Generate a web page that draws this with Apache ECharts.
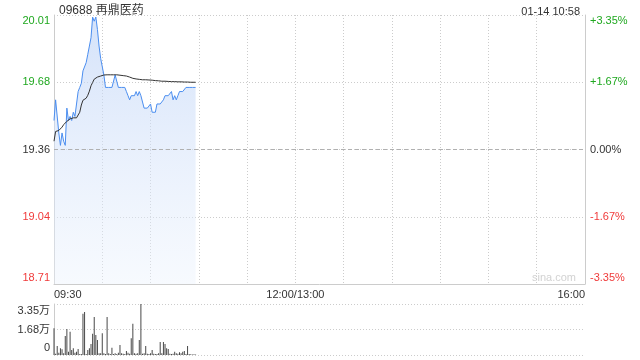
<!DOCTYPE html>
<html><head><meta charset="utf-8">
<script src="https://cdn.jsdelivr.net/npm/echarts@6/dist/echarts.min.js"></script>
<style>html,body{margin:0;padding:0;background:#fff}#c{width:640px;height:360px}</style>
</head><body><div id="c"></div>
<script>
const stockTitle = '09688 再鼎医药';
const stampText = '01-14 10:58';
const watermark = 'sina.com';
const prevClose = 19.36;
const priceRange = 0.65;
const sessionMinutes = 330;
const prices = [19.50,19.60,19.60,19.44,19.38,19.44,19.40,19.38,19.56,19.50,
  19.52,19.50,19.54,19.52,19.52,19.64,19.66,19.68,19.74,19.74,
  19.78,19.82,19.86,19.90,20.00,19.98,20.00,19.94,19.86,19.80,
  19.76,19.72,19.66,19.66,19.66,19.66,19.66,19.66,19.72,19.72,
  19.66,19.66,19.66,19.66,19.66,19.64,19.62,19.60,19.62,19.62,
  19.62,19.64,19.62,19.64,19.62,19.62,19.56,19.56,19.56,19.56,
  19.58,19.54,19.54,19.54,19.58,19.58,19.58,19.58,19.60,19.62,
  19.62,19.62,19.62,19.64,19.60,19.62,19.60,19.62,19.64,19.64,
  19.64,19.64,19.66,19.66,19.66,19.66,19.66,19.66,19.66];
const avgPrices = [19.400,19.447,19.450,19.452,19.455,19.468,19.480,19.488,19.496,19.505,
  19.508,19.512,19.513,19.513,19.513,19.515,19.540,19.575,19.598,19.602,
  19.608,19.622,19.642,19.668,19.684,19.700,19.707,19.710,19.712,19.715,
  19.718,19.720,19.721,19.721,19.721,19.721,19.721,19.721,19.721,19.721,
  19.720,19.719,19.718,19.717,19.716,19.715,19.713,19.710,19.706,19.704,
  19.702,19.701,19.700,19.699,19.698,19.697,19.697,19.697,19.696,19.696,
  19.695,19.695,19.694,19.693,19.693,19.692,19.691,19.690,19.690,19.690,
  19.689,19.689,19.688,19.688,19.688,19.688,19.687,19.687,19.687,19.687,
  19.686,19.686,19.686,19.686,19.685,19.685,19.685,19.685,19.685];
const volumes = [17600,800,5900,1500,4400,3700,1200,12500,17000,2200,
  15200,3300,4400,1500,2200,4000,700,600,27100,28200,
  700,3300,4400,7300,13900,24900,13200,9900,1100,1100,
  14300,1100,600,24900,1100,600,4800,600,1100,600,
  1500,6600,1100,800,600,2600,1500,800,11000,20500,
  1100,800,1100,9900,33500,800,1100,5900,800,600,
  1100,3300,800,600,600,1100,8600,1100,8600,7300,
  4400,4000,800,600,800,2200,1100,800,1800,1100,
  2200,2600,600,5900,600,500,400,500,400];
const volMax = 33500;
const priceTickLabels = ['18.71','19.04','19.36','19.68','20.01'];
const pctTickLabels = ['-3.35%','-1.67%','0.00%','+1.67%','+3.35%'];
const volTickLabels = ['0','1.68万','3.35万'];
const timeTicks = [0,150,330];
const timeTickLabels = ['09:30','12:00/13:00','16:00'];

const FONT = '"Liberation Sans", Arial, "Noto Sans CJK SC", sans-serif';
const GREEN = '#1fa81f', RED = '#f03a3a', TXT = '#333';
const GRID_C = '#cccccc';
const dotted = {color: GRID_C, type: [1,2], width: 1};
const styleKeys = ['rb','r','n','g','gt'];
function richSet(fs){
  return {
    gt:{color:GREEN,fontSize:fs,fontFamily:FONT,padding:[11,0,0,0]},
    g:{color:GREEN,fontSize:fs,fontFamily:FONT},
    n:{color:TXT,fontSize:fs,fontFamily:FONT},
    r:{color:RED,fontSize:fs,fontFamily:FONT},
    rb:{color:RED,fontSize:fs,fontFamily:FONT,padding:[0,0,13,0]},
    vt:{color:TXT,fontSize:fs,fontFamily:FONT,padding:[14,0,0,0]},
    v:{color:TXT,fontSize:fs,fontFamily:FONT},
    vb:{color:TXT,fontSize:fs,fontFamily:FONT,padding:[0,0,14,0]}
  };
}
const step = priceRange/2;
const chart = echarts.init(document.getElementById('c'), null, {renderer:'canvas'});
chart.setOption({
  animation:false,
  backgroundColor:'#fff',
  title:[
    {text:stockTitle,left:54,top:0,textStyle:{fontSize:12,fontWeight:'normal',color:TXT,fontFamily:FONT}},
    {text:stampText,right:55,top:1,textStyle:{fontSize:11,fontWeight:'normal',color:TXT,fontFamily:FONT}}
  ],
  graphic:[{type:'text',left:532,top:272,silent:true,style:{text:watermark,fill:'#d2d2d2',font:'11px '+FONT}}],
  grid:[
    {left:54,right:55,top:15,height:269,containLabel:false},
    {left:54,right:55,top:304,height:51,containLabel:false}
  ],
  xAxis:[
    {type:'value',gridIndex:0,min:0,max:sessionMinutes,interval:30,
     axisLine:{show:true,onZero:false,lineStyle:{color:GRID_C}},axisTick:{show:false},
     splitLine:{show:true,lineStyle:dotted},
     axisLabel:{customValues:timeTicks,margin:5,color:TXT,fontSize:11,fontFamily:FONT,
       alignMinLabel:'left',alignMaxLabel:'right',
       formatter:v=>timeTickLabels[timeTicks.indexOf(v)]}},
    {type:'value',gridIndex:1,min:0,max:sessionMinutes,interval:30,
     axisLine:{show:false},axisTick:{show:false},splitLine:{show:false},axisLabel:{show:false}}
  ],
  yAxis:[
    {type:'value',gridIndex:0,position:'left',min:-2*step,max:2*step,interval:step,
     axisLine:{show:true,lineStyle:{color:GRID_C}},axisTick:{show:false},
     splitLine:{show:true,lineStyle:dotted},
     axisLabel:{margin:4,rich:richSet(11),formatter:(v,i)=>'{'+styleKeys[i]+'|'+priceTickLabels[i]+'}'}},
    {type:'value',gridIndex:0,position:'right',min:-2*step,max:2*step,interval:step,
     axisLine:{show:true,lineStyle:{color:GRID_C}},axisTick:{show:false},splitLine:{show:false},
     axisLabel:{margin:5,rich:richSet(11),formatter:(v,i)=>'{'+styleKeys[i]+'|'+pctTickLabels[i]+'}'}},
    {type:'value',gridIndex:1,min:0,max:volMax,interval:volMax/2,
     axisLine:{show:true,lineStyle:{color:GRID_C}},axisTick:{show:false},
     splitLine:{show:true,lineStyle:dotted},
     axisLabel:{margin:4,rich:richSet(11),formatter:(v,i)=>'{'+['vb','v','vt'][i]+'|'+volTickLabels[i]+'}'}}
  ],
  series:[
    {type:'line',xAxisIndex:0,yAxisIndex:0,showSymbol:false,silent:true,
     data:prices.map((p,i)=>[i,p-prevClose]),
     lineStyle:{color:'#4b8ef0',width:1},
     areaStyle:{origin:'start',color:new echarts.graphic.LinearGradient(0,0,0,1,[
       {offset:0,color:'rgba(188,210,247,0.9)'},{offset:1,color:'rgba(236,243,253,0.6)'}])},
     markLine:{silent:true,symbol:'none',label:{show:false},
       lineStyle:{color:'#b0b0b0',type:[4,3],width:1},data:[{yAxis:0}]}},
    {type:'line',xAxisIndex:0,yAxisIndex:0,showSymbol:false,silent:true,
     data:avgPrices.map((p,i)=>[i,p-prevClose]),
     lineStyle:{color:'#333',width:1}},
    {type:'bar',xAxisIndex:1,yAxisIndex:2,barWidth:1,silent:true,
     data:volumes.map((v,i)=>[i,v]),itemStyle:{color:'#484848'}}
  ]
});
</script></body></html>
